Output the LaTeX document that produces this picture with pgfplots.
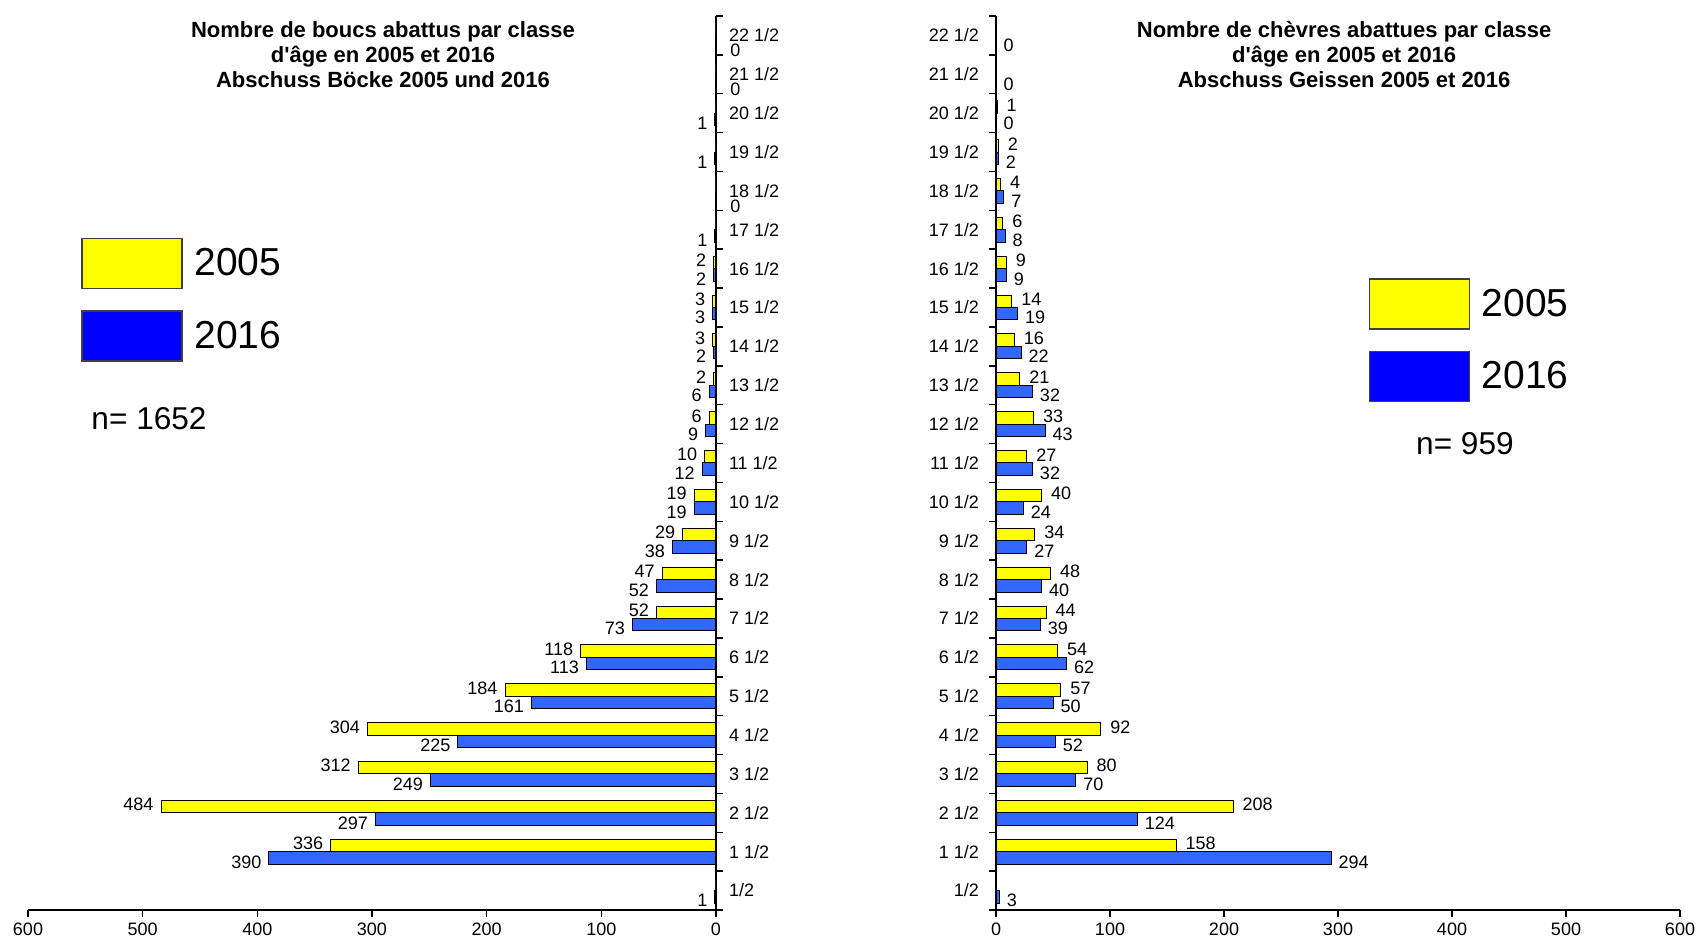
\documentclass[border=0pt]{standalone}
\usepackage{fontspec}
\setmainfont{Liberation Sans}
\usepackage{pgfplots}
\usepackage{pgfplotstable}
\pgfplotsset{compat=1.18}

\definecolor{baryellow}{RGB}{255,255,0}
\definecolor{barblue}{RGB}{51,102,255}
\definecolor{legblue}{RGB}{0,0,255}

% y = class (0 = 1/2 ... 22 = 22 1/2), a = 2005, b = 2016
% la, lb = printed labels, lz = zero labels printed right of the axis
\pgfplotstableread{
y a b la lb lz
0 0 1 {} 1 {}
1 336 390 336 390 {}
2 484 297 484 297 {}
3 312 249 312 249 {}
4 304 225 304 225 {}
5 184 161 184 161 {}
6 118 113 118 113 {}
7 52 73 52 73 {}
8 47 52 47 52 {}
9 29 38 29 38 {}
10 19 19 19 19 {}
11 10 12 10 12 {}
12 6 9 6 9 {}
13 2 6 2 6 {}
14 3 2 3 2 {}
15 3 3 3 3 {}
16 2 2 2 2 {}
17 0 1 {} 1 {}
18 0 0 {} {} 0
19 0 1 {} 1 {}
20 0 1 {} 1 {}
21 0 0 {} {} 0
22 0 0 {} {} 0
}\leftdata

\pgfplotstableread{
y a b la lb
0 0 3 {} 3
1 158 294 158 294
2 208 124 208 124
3 80 70 80 70
4 92 52 92 52
5 57 50 57 50
6 54 62 54 62
7 44 39 44 39
8 48 40 48 40
9 34 27 34 27
10 40 24 40 24
11 27 32 27 32
12 33 43 33 43
13 21 32 21 32
14 16 22 16 22
15 14 19 14 19
16 9 9 9 9
17 6 8 6 8
18 4 7 4 7
19 2 2 2 2
20 1 0 1 0
21 0 0 {} 0
22 0 0 {} 0
}\rightdata

\tikzset{labfont/.style={font=\fontsize{9}{10}\selectfont, inner sep=1.5pt}}

\pgfplotsset{
  pyramid/.style={
    scale only axis, width=343pt, height=447pt,
    xbar, bar width=0.32,
    ymin=-0.5, ymax=22.5,
    axis x line*=bottom,
    ytick={0,...,22},
    yticklabels={1/2,1 1/2,2 1/2,3 1/2,4 1/2,5 1/2,6 1/2,7 1/2,8 1/2,9 1/2,10 1/2,11 1/2,12 1/2,13 1/2,14 1/2,15 1/2,16 1/2,17 1/2,18 1/2,19 1/2,20 1/2,21 1/2,22 1/2},
    minor ytick={-0.5,0.5,...,22.5},
    tick align=outside,
    major tick length=0pt, minor tick length=3.5pt,
    axis line style={line width=0.75pt},
    minor tick style={line width=0.75pt, black},
    tick label style={font=\fontsize{9}{10}\selectfont},
    xticklabel style={yshift=-3pt},
    clip=false,
    point meta=explicit symbolic,
    nodes near coords={\pgfplotspointmeta},
    title style={align=center, anchor=north, yshift=-5pt,
      font=\bfseries\fontsize{11}{12.7}\selectfont},
    legend cell align=left,
    legend style={anchor=north west, draw=none, fill=none, inner sep=0pt,
      row sep=10.5pt, column sep=6pt, font=\fontsize{19.5}{22}\selectfont,
      nodes={inner sep=0pt}},
  },
}

\begin{document}
\begin{tikzpicture}
\useasboundingbox (0,0) rectangle (851pt,471pt);

% left: bucks
\begin{axis}[pyramid,
  at={(14pt,16pt)}, anchor=south west, width=344pt,
  xmin=-600, xmax=0,
  axis y line*=right,
  xtick={-600,-500,...,0}, xticklabels={600,500,400,300,200,100,0},
  minor xtick={-600,-500,...,0},
  yticklabel style={xshift=3pt},
  title={Nombre de boucs abattus par classe\\d\textquotesingle âge en 2005 et 2016\\Abschuss Böcke 2005 und 2016},
  title style={at={(0.516,1)}},
  legend style={at={(0.077,0.752)}},
]
\addplot[fill=baryellow, draw=black, line width=0.5pt, bar shift=0.16,
  every node near coord/.append style={labfont, anchor=east, xshift=-2pt, yshift=1pt},
  legend image code/.code={\draw[draw=black!75, line width=0.6pt, fill=baryellow] (0pt,-12.5pt) rectangle (50pt,12.5pt);}]
  table[x expr=-\thisrow{a}, y=y, meta=la] {\leftdata};
\addlegendentry{2005}
\addplot[fill=barblue, draw=black, line width=0.5pt, bar shift=-0.16,
  every node near coord/.append style={labfont, anchor=east, xshift=-2pt, yshift=-2pt},
  legend image code/.code={\draw[draw=black!75, line width=0.6pt, fill=legblue] (0pt,-12.5pt) rectangle (50pt,12.5pt);}]
  table[x expr=-\thisrow{b}, y=y, meta=lb] {\leftdata};
\addlegendentry{2016}
\addplot[draw=none, fill=none, bar shift=-0.16, forget plot,
  every node near coord/.append style={labfont, anchor=west, xshift=5.5pt, yshift=-4.5pt}]
  table[x expr=-\thisrow{b}, y=y, meta=lz] {\leftdata};
\node[anchor=west, font=\fontsize{15.8}{18}\selectfont] at (axis description cs:0.082,0.550) {n= 1652};
\end{axis}

% right: goats
\begin{axis}[pyramid,
  at={(498pt,16pt)}, anchor=south west, width=342pt,
  xmin=0, xmax=600,
  axis y line*=left,
  xtick={0,100,...,600}, xticklabels={0,100,200,300,400,500,600},
  minor xtick={0,100,...,600},
  yticklabel style={xshift=-5pt},
  title={Nombre de chèvres abattues par classe\\d\textquotesingle âge en 2005 et 2016\\Abschuss Geissen 2005 et 2016},
  title style={at={(0.509,1)}},
  legend style={at={(0.544,0.707)}},
]
\addplot[fill=baryellow, draw=black, line width=0.5pt, bar shift=0.16,
  every node near coord/.append style={labfont, anchor=west, xshift=3pt, yshift=1pt},
  legend image code/.code={\draw[draw=black!75, line width=0.6pt, fill=baryellow] (0pt,-12.5pt) rectangle (50pt,12.5pt);}]
  table[x=a, y=y, meta=la] {\rightdata};
\addlegendentry{2005}
\addplot[fill=barblue, draw=black, line width=0.5pt, bar shift=-0.16,
  every node near coord/.append style={labfont, anchor=west, xshift=2pt, yshift=-2pt},
  legend image code/.code={\draw[draw=black!75, line width=0.6pt, fill=legblue] (0pt,-12.5pt) rectangle (50pt,12.5pt);}]
  table[x=b, y=y, meta=lb] {\rightdata};
\addlegendentry{2016}
\node[anchor=west, font=\fontsize{15.8}{18}\selectfont] at (axis description cs:0.604,0.522) {n= 959};
\end{axis}
\end{tikzpicture}
\end{document}
